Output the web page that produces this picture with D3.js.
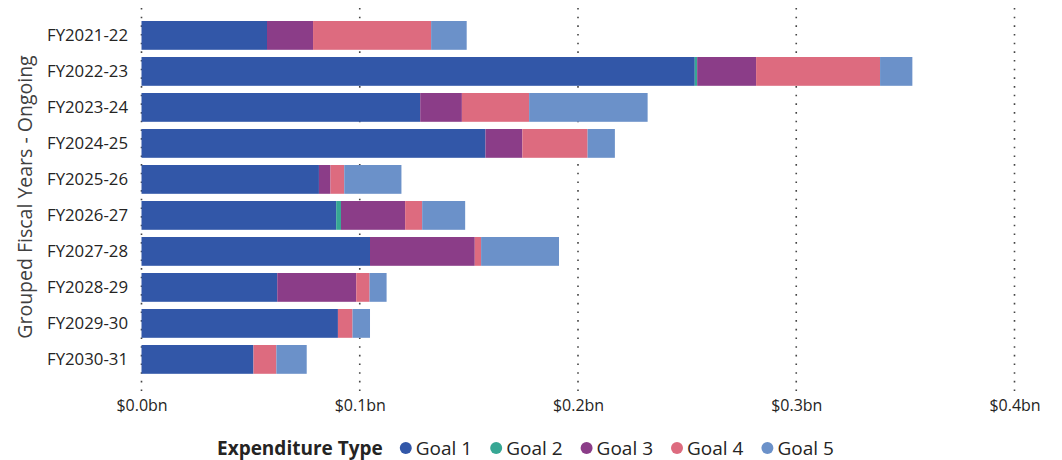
<!DOCTYPE html>
<html>
<head>
<meta charset="utf-8">
<script src="https://cdn.jsdelivr.net/npm/d3@7"></script>
<style>
  html, body { margin: 0; padding: 0; background: #fff; }
  svg { display: block; font-family: "Open Sans", "Noto Sans", sans-serif; }
</style>
</head>
<body>
<svg id="chart" width="1062" height="460"></svg>
<script>
const categories = ["FY2021-22","FY2022-23","FY2023-24","FY2024-25","FY2025-26","FY2026-27","FY2027-28","FY2028-29","FY2029-30","FY2030-31"];
const seriesNames = ["Goal 1","Goal 2","Goal 3","Goal 4","Goal 5"];
const goal1 = [0.0575, 0.2535, 0.1277, 0.1576, 0.0813, 0.0892, 0.1047, 0.0622, 0.0900, 0.0513];
const goal2 = [0.0000, 0.0011, 0.0000, 0.0000, 0.0000, 0.0022, 0.0000, 0.0000, 0.0000, 0.0000];
const goal3 = [0.0211, 0.0270, 0.0191, 0.0169, 0.0053, 0.0294, 0.0480, 0.0362, 0.0000, 0.0000];
const goal4 = [0.0541, 0.0568, 0.0308, 0.0299, 0.0063, 0.0078, 0.0029, 0.0061, 0.0067, 0.0105];
const goal5 = [0.0163, 0.0148, 0.0543, 0.0125, 0.0262, 0.0197, 0.0357, 0.0078, 0.0080, 0.0139];
const xTicks = [0, 0.1, 0.2, 0.3, 0.4];
const colors = ["#3257A8", "#37A794", "#8B3D88", "#DD6B7F", "#6B91C9"];
const legendTitle = "Expenditure Type";
const yTitle = "Grouped Fiscal Years - Ongoing";

const seriesArrays = [goal1, goal2, goal3, goal4, goal5];
const table = categories.map((c, i) => {
  const row = { cat: c };
  seriesNames.forEach((s, j) => row[s] = seriesArrays[j][i]);
  return row;
});
const stacked = d3.stack().keys(seriesNames)(table);

const svg = d3.select("#chart");
const x = d3.scaleLinear().domain([0, 0.4]).range([141.5, 1014.5]);
const y = d3.scaleBand().domain(categories).range([13.8, 381]).paddingInner(0.2).paddingOuter(0.2);
const color = d3.scaleOrdinal().domain(seriesNames).range(colors);

// gridlines (dotted)
svg.append("g").selectAll("line").data(xTicks).join("line")
  .attr("x1", d => x(d)).attr("x2", d => x(d))
  .attr("y1", 8).attr("y2", 391)
  .attr("stroke", "#444").attr("stroke-width", 1.6)
  .attr("stroke-dasharray", "1.6,7.07");

// bars
svg.append("g").selectAll("g").data(stacked).join("g")
  .attr("fill", d => color(d.key))
  .selectAll("rect").data(d => d.filter(p => p[1] - p[0] > 0)).join("rect")
  .attr("x", d => x(d[0]))
  .attr("y", d => y(d.data.cat))
  .attr("width", d => x(d[1]) - x(d[0]))
  .attr("height", y.bandwidth());

// x axis
const xAxis = svg.append("g").attr("transform", "translate(0,400)")
  .call(d3.axisBottom(x).tickValues(xTicks).tickSize(0).tickFormat(d => "$" + d3.format(".1f")(d) + "bn"));
xAxis.select(".domain").remove();
xAxis.selectAll("text").attr("font-size", 16).attr("fill", "#252423")
  .attr("font-family", "'Open Sans', sans-serif").attr("dy", "0.71em").attr("y", 0);

// y axis
const yAxis = svg.append("g").attr("transform", "translate(128,0)")
  .call(d3.axisLeft(y).tickSize(0).tickPadding(0));
yAxis.select(".domain").remove();
yAxis.selectAll("text").attr("font-size", 16.8).attr("fill", "#252423")
  .attr("font-family", "'Open Sans', sans-serif");

// y title
svg.append("text")
  .attr("transform", "translate(32,197) rotate(-90)")
  .attr("text-anchor", "middle")
  .attr("font-size", 19.5).attr("fill", "#404040")
  .text(yTitle);

// legend
const lg = svg.append("g").attr("transform", "translate(217,448)");
const lt = lg.append("text").attr("x", 0).attr("dy", "0.35em")
  .attr("font-size", 19).attr("font-weight", "bold").attr("fill", "#252423")
  .text(legendTitle);
let cx = lt.node().getComputedTextLength() + 23;
seriesNames.forEach((s) => {
  lg.append("circle").attr("cx", cx).attr("cy", 0).attr("r", 6).attr("fill", color(s));
  const t = lg.append("text").attr("x", cx + 10).attr("dy", "0.35em")
    .attr("font-size", 19).attr("fill", "#252423").text(s);
  cx = cx + 10 + t.node().getComputedTextLength() + 24;
});
</script>
</body>
</html>
